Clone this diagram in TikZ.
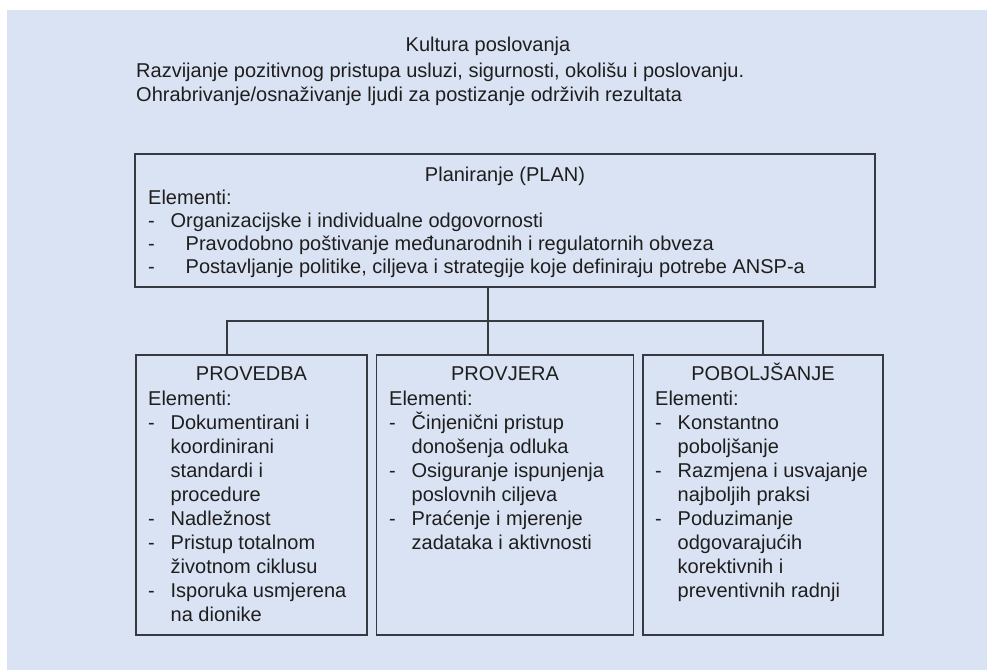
\documentclass[tikz,border=0pt]{standalone}
\usepackage{fontspec}
\setmainfont{Liberation Sans}
\usetikzlibrary{positioning,calc}

\definecolor{pozadina}{RGB}{218,227,243}
\definecolor{rub}{RGB}{55,58,66}
\definecolor{tekst}{RGB}{30,30,30}
\newcommand{\crt}[1][22.5pt]{\makebox[#1][l]{-}}
\newcommand{\uvl}{\hspace*{22.5pt}}

\begin{document}
\begin{tikzpicture}[x=1pt, y=-1pt,
  font=\fontsize{20}{24}\selectfont, text=tekst,
  okvir/.style={draw=rub, line width=1.4pt, inner sep=0pt},
  naslov/.style={anchor=base, inner sep=0pt},
  sadrzaj/.style={anchor=base west, align=left, inner sep=0pt},
  veza/.style={draw=rub, line width=1.4pt},
]
\useasboundingbox (0,0) rectangle (987,670);
\fill[pozadina] (7,10) rectangle (987,670);

% zaglavlje (sidro = zadnji redak)
\node[naslov] (kultura) at (488,51.7) {Kultura poslovanja};
\node[sadrzaj] (opis) at (136,101.7) {Razvijanje pozitivnog pristupa usluzi, sigurnosti, okolišu i poslovanju.\\
  Ohrabrivanje/osnaživanje ljudi za postizanje održivih rezultata};

% okviri
\node[okvir, minimum width=740pt, minimum height=133pt] (plan) at (505,220.5) {};
\node[okvir, minimum width=231pt, minimum height=280pt] (provedba) at (251.5,495) {};
\node[okvir, minimum width=257pt, minimum height=280pt] (provjera) at (505,495) {};
\node[okvir, minimum width=240pt, minimum height=280pt] (poboljsanje) at (763,495) {};

% planiranje
\node[naslov] (plan-n) at (505,181) {Planiranje (PLAN)};
\node[sadrzaj, font=\fontsize{20}{23}\selectfont] (plan-s) at (148,273) {Elementi:\\
  \crt Organizacijske i individualne odgovornosti\\
  \crt[37.5pt]Pravodobno poštivanje međunarodnih i regulatornih obveza\\
  \crt[37.5pt]Postavljanje politike, ciljeva i strategije koje definiraju potrebe ANSP-a};

% provedba
\node[naslov] (provedba-n) at (251.5,380.7) {PROVEDBA};
\node[sadrzaj] (provedba-s) at (148,621) {Elementi:\\
  \crt Dokumentirani i\\ \uvl koordinirani\\ \uvl standardi i\\ \uvl procedure\\
  \crt Nadležnost\\
  \crt Pristup totalnom\\ \uvl životnom ciklusu\\
  \crt Isporuka usmjerena\\ \uvl na dionike};

% provjera
\node[naslov] (provjera-n) at (505,380.7) {PROVJERA};
\node[sadrzaj] (provjera-s) at (389,549) {Elementi:\\
  \crt Činjenični pristup\\ \uvl donošenja odluka\\
  \crt Osiguranje ispunjenja\\ \uvl poslovnih ciljeva\\
  \crt Praćenje i mjerenje\\ \uvl zadataka i aktivnosti};

% poboljsanje
\node[naslov] (poboljsanje-n) at (763,380.7) {POBOLJŠANJE};
\node[sadrzaj] (poboljsanje-s) at (655,597) {Elementi:\\
  \crt Konstantno\\ \uvl poboljšanje\\
  \crt Razmjena i usvajanje\\ \uvl najboljih praksi\\
  \crt Poduzimanje\\ \uvl odgovarajućih\\ \uvl korektivnih i\\ \uvl preventivnih radnji};

% veze
\coordinate (cvor) at (488,321);
\coordinate (lijevo) at (227,321);
\coordinate (desno) at (763,321);
\draw[veza] (plan.south -| cvor) -- (cvor);
\draw[veza] (lijevo |- provedba.north) -- (lijevo) -- (desno) -- (desno |- poboljsanje.north);
\draw[veza] (cvor) -- (cvor |- provjera.north);
\end{tikzpicture}
\end{document}
